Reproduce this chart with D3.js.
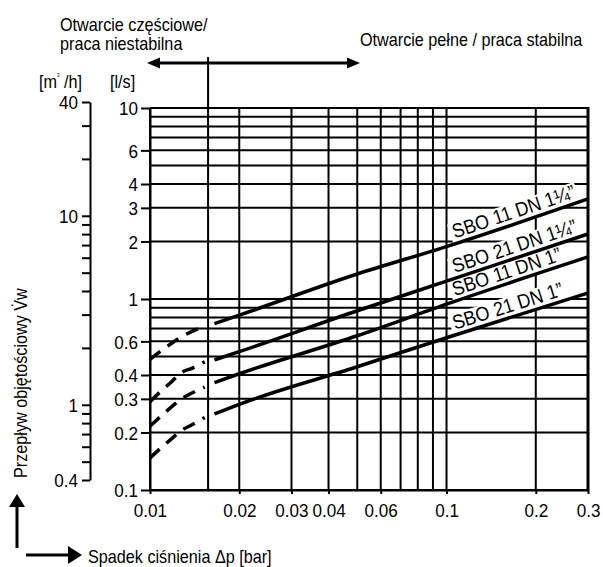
<!DOCTYPE html>
<html><head><meta charset="utf-8">
<script src="https://cdn.jsdelivr.net/npm/d3@7"></script>
<style>body{margin:0;background:#fff}svg{display:block}</style>
</head><body>
<svg id="c" width="603" height="567"></svg>
<script>
// ---------------- DATA ----------------
const pressureTicks = [0.01, 0.02, 0.03, 0.04, 0.06, 0.1, 0.2, 0.3];
const pressureTickLabels = ["0.01", "0.02", "0.03", "0.04", "0.06", "0.1", "0.2", "0.3"];
const pressureGrid = [0.01, 0.02, 0.03, 0.04, 0.05, 0.06, 0.07, 0.08, 0.09, 0.1, 0.2, 0.3];
const stabilityLimit = 0.0157;
const flowTicksLs = [0.1, 0.2, 0.3, 0.4, 0.6, 1, 2, 3, 4, 6, 10];
const flowTickLabelsLs = ["0.1", "0.2", "0.3", "0.4", "0.6", "1", "2", "3", "4", "6", "10"];
const flowGridLs = [0.1, 0.2, 0.3, 0.4, 0.5, 0.6, 0.7, 0.8, 0.9, 1, 2, 3, 4, 5, 6, 7, 8, 9, 10];
const flowTicksM3h = [0.4, 0.5, 0.6, 0.7, 0.8, 0.9, 1, 2, 3, 4, 5, 6, 7, 8, 9, 10, 20, 30, 40];
const flowLabelsM3h = [0.4, 1, 10, 40];
const flowLabelTextM3h = ["0.4", "1", "10", "40"];

const seriesNames = ["SBO 11 DN 1\u00BC\u201D", "SBO 21 DN 1\u00BC\u201D", "SBO 11 DN 1\u201D", "SBO 21 DN 1\u201D"];
// unstable (dashed) part
const dpDashed = [0.01, 0.011, 0.0119, 0.0127, 0.0139, 0.0153];
const sbo11dn114Dashed = [0.483, 0.541, 0.590, 0.632, 0.677, 0.720];
const sbo21dn114Dashed = [0.290, 0.334, 0.372, 0.410, 0.435, 0.469];
const sbo11dn1Dashed   = [0.216, 0.247, 0.275, 0.298, 0.323, 0.346];
const sbo21dn1Dashed   = [0.147, 0.1685, 0.187, 0.204, 0.220, 0.240];
// stable (solid) part
const dpSolid = [0.0165, 0.02, 0.05, 0.1, 0.3];
const sbo11dn114Solid = [0.743, 0.823, 1.352, 1.88, 3.34];
const sbo21dn114Solid = [0.48, 0.530, 0.868, 1.24, 2.19];
const sbo11dn1Solid   = [0.365, 0.406, 0.642, 0.939, 1.66];
const sbo21dn1Solid   = [0.25, 0.281, 0.442, 0.627, 1.075];

const dashedSeries = [sbo11dn114Dashed, sbo21dn114Dashed, sbo11dn1Dashed, sbo21dn1Dashed];
const solidSeries = [sbo11dn114Solid, sbo21dn114Solid, sbo11dn1Solid, sbo21dn1Solid];
const labelPressure = 0.108;

// ---------------- FONT ----------------
const FAMILY = `"Liberation Sans", Arial, sans-serif`;
const SX = 0.9;

// ---------------- CHART ----------------
const svg = d3.select("#c");
svg.append("rect").attr("width", 603).attr("height", 567).attr("fill", "#fff");
const x = d3.scaleLog().domain([0.01, 0.3]).range([150, 588]);
const y = d3.scaleLog().domain([0.1, 10]).range([490, 108]);
const y2 = d3.scaleLog().domain([0.4, 40]).range([480, 102]);

function txt(parent, px, py, str, size, anchor = "start", rot = 0) {
  const g = parent.append("g").attr("transform", `translate(${px},${py}) rotate(${rot}) scale(${SX},1)`);
  return g.append("text").attr("font-family", FAMILY).attr("font-size", size)
    .attr("text-anchor", anchor).attr("fill", "#000").text(str);
}

// grid
const grid = svg.append("g").attr("stroke", "#000").attr("stroke-width", 2);
grid.selectAll("line.v").data(pressureGrid).join("line").attr("class", "v")
  .attr("x1", d => x(d)).attr("x2", d => x(d)).attr("y1", y(10)).attr("y2", y(0.1));
grid.selectAll("line.h").data(flowGridLs).join("line").attr("class", "h")
  .attr("x1", x(0.01)).attr("x2", x(0.3)).attr("y1", d => y(d)).attr("y2", d => y(d));
grid.append("line").attr("x1", x(stabilityLimit)).attr("x2", x(stabilityLimit)).attr("y1", 57).attr("y2", y(0.1));

// axes
function styleAxis(g, fs) {
  g.attr("font-size", fs).attr("font-family", FAMILY);
  g.selectAll("path.domain").attr("stroke", "#000").attr("stroke-width", 2);
  g.selectAll(".tick line").attr("stroke", "#000").attr("stroke-width", 2);
  g.selectAll(".tick text").attr("fill", "#000");
}
const xAxis = svg.append("g").attr("transform", `translate(0,${y(0.1)})`)
  .call(d3.axisBottom(x).tickValues(pressureTicks).tickFormat((d, i) => pressureTickLabels[i]).tickSize(4).tickSizeOuter(0));
styleAxis(xAxis, 19);
xAxis.selectAll(".tick text").attr("y", 27).attr("dy", null)
  .attr("transform", `scale(${SX},1)`);

const yAxis = svg.append("g").attr("transform", `translate(${x(0.01)},0)`)
  .call(d3.axisLeft(y).tickValues(flowTicksLs).tickFormat((d, i) => flowTickLabelsLs[i]).tickSize(9).tickSizeOuter(0));
styleAxis(yAxis, 19);
yAxis.selectAll(".tick text").attr("x", -12 / SX).attr("dy", "0.36em").attr("transform", `scale(${SX},1)`);

const y2Axis = svg.append("g").attr("transform", "translate(90,0)")
  .call(d3.axisLeft(y2).tickValues(flowTicksM3h)
    .tickFormat(d => { const k = flowLabelsM3h.indexOf(d); return k >= 0 ? flowLabelTextM3h[k] : ""; })
    .tickSize(8).tickSizeOuter(0));
styleAxis(y2Axis, 19);
y2Axis.selectAll(".tick text").attr("x", -12 / SX).attr("dy", "0.36em").attr("transform", `scale(${SX},1)`);

// curves
const boxLayer = svg.append("g");
const curveLayer = svg.append("g");
const textLayer = svg.append("g");
// right frame border drawn above label boxes
curveLayer.append("line").attr("x1", x(0.3)).attr("x2", x(0.3)).attr("y1", y(10) - 1).attr("y2", y(0.1))
  .attr("stroke", "#000").attr("stroke-width", 3);
const line = d3.line().x(d => x(d[0])).y(d => y(d[1])).curve(d3.curveMonotoneX);
solidSeries.forEach((vals, i) => {
  const dashed = dpDashed.map((p, k) => [p, dashedSeries[i][k]]);
  const solid = dpSolid.map((p, k) => [p, vals[k]]);
  curveLayer.append("path").attr("d", line(dashed)).attr("fill", "none").attr("stroke", "#000")
    .attr("stroke-width", 3.5).attr("stroke-dasharray", "13,9");
  curveLayer.append("path").attr("d", line(solid)).attr("fill", "none").attr("stroke", "#000")
    .attr("stroke-width", 3.5);

  // label along curve
  const j = dpSolid.findIndex((p, k) => k < dpSolid.length - 1 && labelPressure >= p && labelPressure <= dpSolid[k + 1]);
  const t = (Math.log(labelPressure) - Math.log(dpSolid[j])) / (Math.log(dpSolid[j + 1]) - Math.log(dpSolid[j]));
  const q = Math.exp(Math.log(vals[j]) + t * (Math.log(vals[j + 1]) - Math.log(vals[j])));
  const n = dpSolid.length;
  const ang = Math.atan2(y(vals[n - 1]) - y(vals[n - 2]), x(dpSolid[n - 1]) - x(dpSolid[n - 2])) * 180 / Math.PI;
  const px = x(labelPressure), py = y(q);
  const off = 5, fs = 20;
  const tEl = txt(textLayer, px, py, seriesNames[i], fs, "start", ang);
  tEl.attr("y", -off);
  const w = tEl.node().getComputedTextLength() * SX;
  boxLayer.append("rect").attr("transform", `translate(${px},${py}) rotate(${ang})`)
    .attr("x", -3).attr("y", -off - fs * 0.78).attr("width", w + 5).attr("height", off + fs * 0.78)
    .attr("fill", "#fff");
});

// annotations
const ann = svg.append("g");
txt(ann, 60, 31, "Otwarcie cz\u0119\u015Bciowe/", 18);
txt(ann, 60, 50, "praca niestabilna", 18);
txt(ann, 360, 46, "Otwarcie pe\u0142ne / praca stabilna", 18);
const mh = txt(ann, 39, 88, "[m", 18);
mh.append("tspan").attr("font-size", 5).attr("dy", -11).text("3");
mh.append("tspan").attr("dy", 11).attr("font-size", 18).text(" /h]");
txt(ann, 110, 88, "[l/s]", 18);
txt(ann, 27, 478, "Przep\u0142yw obj\u0119to\u015Bciowy V\u0307w", 18, "start", -90);
txt(ann, 88, 563, "Spadek ci\u015Bnienia \u0394p [bar]", 18);

// arrows
ann.append("line").attr("x1", 155).attr("x2", 350).attr("y1", 63).attr("y2", 63).attr("stroke", "#000").attr("stroke-width", 3);
ann.append("path").attr("d", "M147,63 L160,57.5 L160,68.5 Z").attr("fill", "#000");
ann.append("path").attr("d", "M360,63 L347,57.5 L347,68.5 Z").attr("fill", "#000");
ann.append("line").attr("x1", 17).attr("x2", 17).attr("y1", 548).attr("y2", 503).attr("stroke", "#000").attr("stroke-width", 3);
ann.append("path").attr("d", "M17,494 L25,507 L9,507 Z").attr("fill", "#000");
ann.append("line").attr("x1", 26).attr("x2", 70).attr("y1", 555).attr("y2", 555).attr("stroke", "#000").attr("stroke-width", 3);
ann.append("path").attr("d", "M82,555 L68,546 L68,564 Z").attr("fill", "#000");
</script>
</body></html>
